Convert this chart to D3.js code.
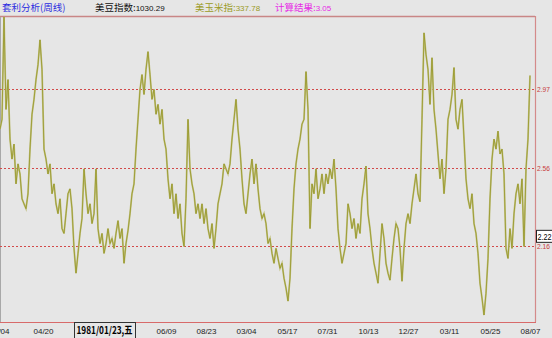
<!DOCTYPE html>
<html>
<head>
<meta charset="utf-8">
<script src="https://cdn.jsdelivr.net/npm/d3@7/dist/d3.min.js"></script>
<style>
  body { margin: 0; background: #e6e6e6; }
  svg { display: block; }
</style>
</head>
<body>
<div id="chart"></div>
<script>
// Weekly soybean / corn ratio, one value per week.
const ratio = [
  2.760, 2.811, 3.339, 2.862, 3.016, 2.709, 2.606, 2.683, 2.478, 2.581,
  2.529, 2.401, 2.375, 2.350, 2.427, 2.657, 2.837, 2.914, 3.016, 3.093,
  3.221, 3.068, 2.657, 2.606, 2.529, 2.581, 2.427, 2.478, 2.375, 2.324,
  2.401, 2.247, 2.222, 2.324, 2.427, 2.452, 2.350, 2.145, 2.017, 2.119,
  2.222, 2.299, 2.555, 2.427, 2.324, 2.375, 2.273, 2.324, 2.555, 2.247,
  2.170, 2.222, 2.119, 2.170, 2.247, 2.170, 2.196, 2.145, 2.222, 2.288,
  2.196, 2.247, 2.068, 2.170, 2.237, 2.324, 2.427, 2.478, 2.657, 2.811,
  2.965, 3.042, 2.939, 3.068, 3.160, 3.042, 2.914, 2.965, 2.837, 2.888,
  2.786, 2.862, 2.709, 2.657, 2.504, 2.401, 2.478, 2.324, 2.427, 2.299,
  2.375, 2.222, 2.155, 2.401, 2.811, 2.555, 2.478, 2.427, 2.324, 2.375,
  2.299, 2.375, 2.273, 2.350, 2.247, 2.196, 2.273, 2.145, 2.247, 2.375,
  2.427, 2.478, 2.581, 2.555, 2.529, 2.581, 2.709, 2.811, 2.914, 2.760,
  2.657, 2.504, 2.375, 2.324, 2.427, 2.529, 2.606, 2.478, 2.581, 2.452,
  2.350, 2.299, 2.324, 2.273, 2.170, 2.196, 2.119, 2.068, 2.145, 2.093,
  2.042, 2.068, 1.991, 1.940, 1.873, 1.991, 2.247, 2.452, 2.581, 2.657,
  2.709, 2.786, 2.811, 3.057, 2.862, 2.247, 2.478, 2.427, 2.555, 2.401,
  2.452, 2.529, 2.427, 2.529, 2.478, 2.555, 2.504, 2.606, 2.452, 2.247,
  2.145, 2.068, 2.119, 2.170, 2.375, 2.324, 2.247, 2.299, 2.196, 2.273,
  2.222, 2.401, 2.478, 2.570, 2.324, 2.247, 2.145, 2.068, 2.017, 1.965,
  2.119, 2.273, 2.196, 2.068, 2.017, 1.981, 2.093, 2.196, 2.273, 2.247,
  2.145, 1.975, 2.145, 2.273, 2.324, 2.273, 2.375, 2.452, 2.529, 2.427,
  2.386, 2.811, 3.257, 3.145, 3.068, 2.888, 3.129, 2.862, 2.760, 2.632,
  2.504, 2.606, 2.427, 2.555, 2.811, 2.862, 2.939, 3.078, 2.811, 2.760,
  2.862, 2.914, 2.709, 2.504, 2.401, 2.350, 2.427, 2.273, 2.222, 2.119,
  1.965, 1.888, 1.801, 1.914, 2.093, 2.401, 2.606, 2.709, 2.657, 2.750,
  2.632, 2.657, 2.529, 2.145, 2.093, 2.247, 2.145, 2.324, 2.427, 2.478,
  2.375, 2.504, 2.155, 2.555, 2.709, 3.037
];

// Date labels along the bottom, with the week index they sit on.
const tickWeeks  = [-0.5, 21.5, 83, 103, 123, 143.5, 163.5, 184, 204, 224.5, 245, 265];
const tickLabels = ["02/04", "04/20", "06/09", "08/23", "03/04", "05/17",
                    "07/31", "10/13", "12/27", "03/11", "05/25", "08/07"];

// Reference levels (dotted lines) and their labels.
const levels      = [2.965, 2.56, 2.155];
const levelLabels = ["2.97", "2.56", "2.16"];

// Header readouts.
const headNames  = ["套利分析(周线)", "美豆指数:", "美玉米指:", "计算结果:"];
const headValues = ["", "1030.29", "337.78", "3.05"];

const cursorDate  = "1981/01/23,五";
const cursorValue = 2.22;

const width = 552, height = 338;
const margin = {top: 17, right: 17, bottom: 16, left: 0};
const plotRight = width - margin.right;
const plotBottom = height - margin.bottom;

const svg = d3.select("#chart").append("svg")
    .attr("width", width)
    .attr("height", height)
    .style("font-family", "'Liberation Sans', Arial, sans-serif");

svg.append("rect")
    .attr("width", width).attr("height", height)
    .attr("fill", "#e6e6e6");

const x = d3.scaleLinear()
    .domain([0, ratio.length - 1])
    .range([0, 530]);

const y = d3.scaleLinear()
    .domain([1.765, 3.339])
    .range([plotBottom, margin.top]);

// Header
const headColors = ["#2b2be0", "#111111", "#9a9a25", "#e62ae6"];
const headX = [2, 95, 195, 275];
headNames.forEach(function(name, i) {
    const t = svg.append("text")
        .attr("x", headX[i]).attr("y", 11)
        .attr("fill", headColors[i])
        .style("font-family", "'Noto Sans CJK SC', sans-serif")
        .style("font-size", "9.5px");
    t.append("tspan").text(name);
    if (headValues[i]) {
        t.append("tspan")
            .style("font-family", "'Liberation Sans', Arial, sans-serif")
            .style("font-size", "8px")
            .text(headValues[i]);
    }
});

// Plot frame
svg.append("line")
    .attr("x1", 0).attr("x2", plotRight)
    .attr("y1", margin.top - 0.5).attr("y2", margin.top - 0.5)
    .attr("stroke", "#c98686").attr("stroke-width", 1.5);
svg.append("line")
    .attr("x1", plotRight + 0.5).attr("x2", plotRight + 0.5)
    .attr("y1", margin.top - 1).attr("y2", plotBottom)
    .attr("stroke", "#d48a8a").attr("stroke-width", 1.2);
svg.append("line")
    .attr("x1", 0.5).attr("x2", 0.5)
    .attr("y1", margin.top).attr("y2", plotBottom)
    .attr("stroke", "#a8a8a8");
svg.append("line")
    .attr("x1", 0).attr("x2", plotRight + 1)
    .attr("y1", plotBottom + 0.5).attr("y2", plotBottom + 0.5)
    .attr("stroke", "#d86a6a");

// Reference levels
svg.append("g").selectAll("line")
    .data(levels)
    .join("line")
        .attr("x1", 0).attr("x2", plotRight)
        .attr("y1", d => Math.round(y(d)) + 0.5)
        .attr("y2", d => Math.round(y(d)) + 0.5)
        .attr("stroke", "#d24a4a")
        .attr("stroke-dasharray", "2,2");

svg.append("g").selectAll("text")
    .data(levels)
    .join("text")
        .attr("x", plotRight + 2)
        .attr("y", d => y(d) + 3)
        .attr("fill", "#c83c3c")
        .attr("textLength", 13)
        .attr("lengthAdjust", "spacingAndGlyphs")
        .style("font-size", "7.5px")
        .text((d, i) => levelLabels[i]);

// Series
const line = d3.line()
    .x((d, i) => x(i))
    .y(d => y(d));

svg.append("path")
    .datum(ratio)
    .attr("fill", "none")
    .attr("stroke", "#c2c282")
    .attr("stroke-width", 1.8)
    .attr("d", line);
svg.append("path")
    .datum(ratio)
    .attr("fill", "none")
    .attr("stroke", "#8f8f1a")
    .attr("stroke-width", 0.7)
    .attr("d", line);

// Current value box
const cy = y(cursorValue) + 3;
svg.append("rect")
    .attr("x", plotRight + 1.5).attr("y", cy - 6.5)
    .attr("width", width - plotRight - 1).attr("height", 12)
    .attr("fill", "#ffffff").attr("stroke", "#222");
svg.append("text")
    .attr("x", plotRight + 2.5).attr("y", cy + 3)
    .attr("fill", "#000")
    .attr("textLength", 14)
    .attr("lengthAdjust", "spacingAndGlyphs")
    .style("font-size", "8.5px")
    .text(cursorValue.toFixed(2));

// Bottom date axis
const xAxis = d3.axisBottom(x)
    .tickValues(tickWeeks)
    .tickSize(0)
    .tickPadding(6)
    .tickFormat((d, i) => tickLabels[i]);

const gx = svg.append("g")
    .attr("transform", "translate(0," + plotBottom + ")")
    .call(xAxis);
gx.select(".domain").remove();
gx.selectAll("text")
    .attr("fill", "#222")
    .style("font-size", "8px")
    .style("font-family", "'Liberation Sans', Arial, sans-serif");

// Cursor date box
svg.append("rect")
    .attr("x", 74.5).attr("y", plotBottom + 0.5)
    .attr("width", 61).attr("height", height - plotBottom)
    .attr("fill", "#e6e6e6").attr("stroke", "#333");
svg.append("text")
    .attr("x", 76.5).attr("y", plotBottom + 12)
    .attr("fill", "#000")
    .attr("textLength", 56)
    .attr("lengthAdjust", "spacingAndGlyphs")
    .style("font-size", "10px")
    .style("font-weight", "bold")
    .style("font-family", "'Noto Sans CJK SC', sans-serif")
    .text(cursorDate);
</script>
</body>
</html>
